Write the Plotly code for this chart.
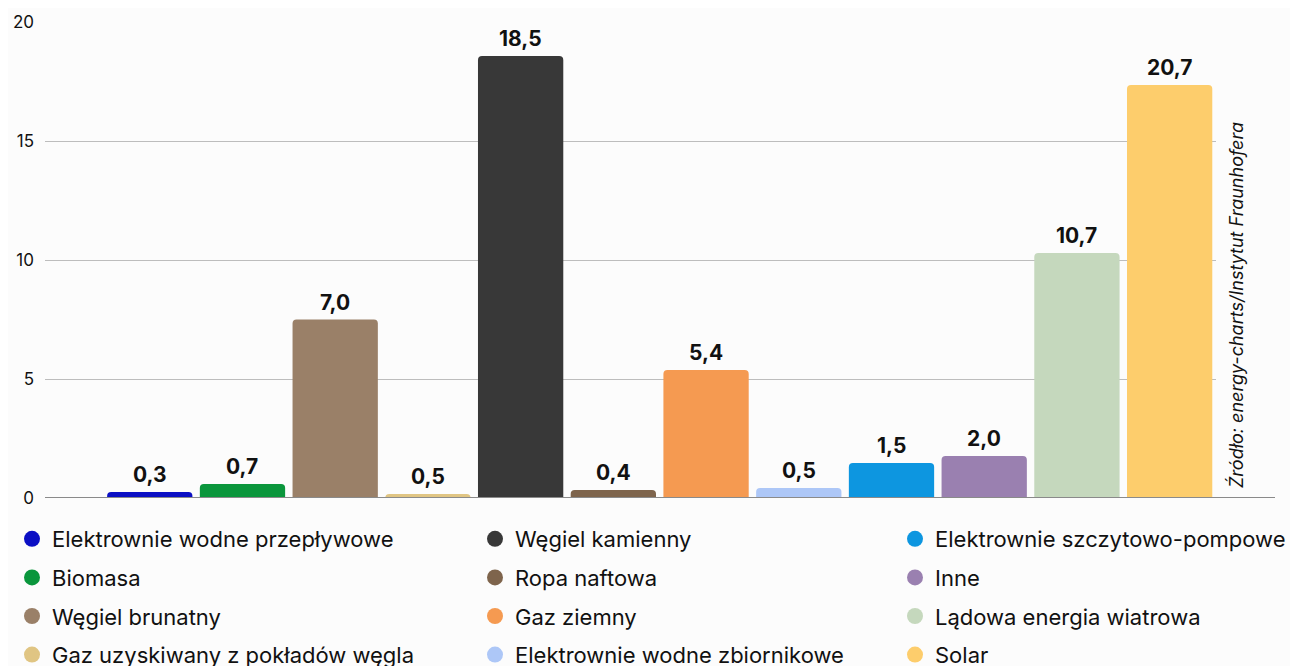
import plotly.graph_objects as go

# source categories, in bar order
categories = [
    "Elektrownie wodne przepływowe",
    "Biomasa",
    "Węgiel brunatny",
    "Gaz uzyskiwany z pokładów węgla",
    "Węgiel kamienny",
    "Ropa naftowa",
    "Gaz ziemny",
    "Elektrownie wodne zbiornikowe",
    "Elektrownie szczytowo-pompowe",
    "Inne",
    "Lądowa energia wiatrowa",
    "Solar",
]
# bar heights as drawn in the picture
bar_heights = [0.25, 0.59, 7.5, 0.17, 18.57, 0.34, 5.38, 0.42, 1.47, 1.76, 10.29, 17.35]
# value labels printed above the bars
value_labels = ["0,3", "0,7", "7,0", "0,5", "18,5", "0,4", "5,4", "0,5", "1,5", "2,0", "10,7", "20,7"]
colors = [
    "#0b0fc4", "#0a963c", "#9a8068", "#e0c583", "#383838", "#7e644c",
    "#f59a51", "#adc7f7", "#0d96e0", "#9a80b0", "#c5d8bd", "#fdcd6c",
]
y_ticks = [0, 5, 10, 15, 20]

FONT = "Inter"
OFF = 8  # page body margin, figure is drawn shifted by this much
W, H = 1298 - OFF, 666 - OFF
L, R_EDGE, T, B_EDGE = 45 - OFF, 1216 - OFF, 22 - OFF, 498 - OFF
plot_w = R_EDGE - L
plot_h = B_EDGE - T


def px_x(p):
    return (p - OFF - L) / plot_w


def px_y(p):
    return (B_EDGE - (p - OFF)) / plot_h


fig = go.Figure()
fig.add_bar(
    x=list(range(len(categories))),
    y=bar_heights,
    marker=dict(color=colors, line_width=0),
    showlegend=False,
    hovertext=categories,
)
for i, (h, lab) in enumerate(zip(bar_heights, value_labels)):
    fig.add_annotation(
        x=i, y=h, text=f"<b>{lab}</b>", showarrow=False,
        yanchor="bottom", yshift=3,
        font=dict(family=FONT, size=21, color="#111111"),
    )

# legend: three columns, four rows each (column-major)
legend_names = ["legend", "legend2", "legend3"]
for i, (name, color) in enumerate(zip(categories, colors)):
    fig.add_scatter(
        x=[None], y=[None], mode="markers", name=name,
        marker=dict(symbol="circle", size=16, color=color),
        legend=legend_names[i // 4], legendgroup=name,
    )

col_px = [12, 475, 895]
legend_style = dict(
    orientation="v", yanchor="top", xanchor="left",
    bgcolor="rgba(0,0,0,0)", tracegroupgap=7,
    font=dict(family=FONT, size=22, color="#111111"),
)
layout_legends = {}
for name, px in zip(legend_names, col_px):
    layout_legends[name] = dict(legend_style, x=px_x(px), y=px_y(518))

# baseline extends past the gridlines to the right
fig.add_shape(
    type="line", xref="paper", yref="y",
    x0=0, x1=px_x(1275), y0=0, y1=0,
    line=dict(color="#8a8a8a", width=2),
)
fig.add_annotation(
    text="<i>Źródło: energy-charts/Instytut Fraunhofera</i>",
    xref="paper", yref="paper",
    x=px_x(1236), y=px_y(305), xanchor="center", yanchor="middle",
    textangle=-90, showarrow=False,
    font=dict(family=FONT, size=18, color="#111111"),
)

fig.update_layout(
    width=W, height=H,
    margin=dict(l=L, r=W - R_EDGE, t=T, b=H - B_EDGE, autoexpand=False),
    paper_bgcolor="#fcfcfc", plot_bgcolor="#fcfcfc",
    bargap=0.08, barcornerradius=4,
    font=dict(family=FONT, color="#111111"),
    **layout_legends,
)
fig.update_xaxes(
    range=[-1.13, 11.5], showticklabels=False, showgrid=False,
    zeroline=False, showline=False, fixedrange=True,
)
fig.update_yaxes(
    range=[0, 20], tickvals=y_ticks, showgrid=True, gridcolor="#bdbdbd",
    gridwidth=1, zeroline=False, showline=False,
    tickfont=dict(family=FONT, size=17, color="#111111"),
    ticklabelstandoff=10,
)

fig.write_html("out.html")
